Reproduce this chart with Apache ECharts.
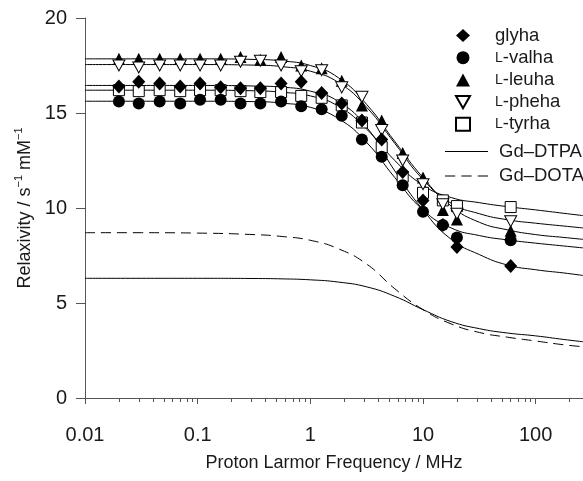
<!DOCTYPE html>
<html>
<head>
<meta charset="utf-8">
<script src="https://cdn.jsdelivr.net/npm/echarts@6/dist/echarts.min.js"></script>
<style>
  html, body { margin: 0; padding: 0; background: #ffffff; }
  #chart { width: 583px; height: 481px; }
</style>
</head>
<body>
<div id="chart"></div>
<script>
// Measured frequencies (MHz) for the relaxivity profiles
const freqMHz = [0.02, 0.03, 0.046, 0.07, 0.105, 0.16, 0.24, 0.36, 0.55, 0.83, 1.26, 1.9, 2.87, 4.3, 6.6, 10, 15, 20, 60];

// Measured relaxivities (s^-1 mM^-1)
const glyha = [16.4, 16.65, 16.55, 16.4, 16.55, 16.35, 16.3, 16.3, 16.55, 16.65, 16.05, 15.5, 14.6, 13.6, 11.9, 10.4, 9.1, 7.95, 6.95];
const valha = [15.6, 15.5, 15.6, 15.5, 15.7, 15.7, 15.5, 15.5, 15.6, 15.35, 15.2, 14.85, 13.6, 12.7, 11.2, 9.8, 9.1, 8.45, 8.3];
const leuha = [17.85, 17.85, 17.85, 17.85, 17.85, 17.85, 17.95, 17.8, 17.95, 17.5, 17.35, 16.7, 15.4, 14.6, 12.9, 11.6, 9.9, 9.4, 8.8];
const pheha = [17.5, 17.4, 17.5, 17.5, 17.5, 17.5, 17.7, 17.75, 17.5, 17.2, 17.25, 16.35, 15.85, 14.1, 12.5, 11.25, 10.2, 9.7, 9.3];
const tyrha = [16.2, 16.15, 16.2, 16.15, 16.2, 16.2, 16.15, 16.1, 16.1, 15.9, 15.8, 15.4, 14.5, 13.2, 11.65, 10.8, 10.4, 10.1, 10.05];

// Fitted profiles, read on a quarter-decade frequency grid
const fitFreq = [0.01, 0.0316, 0.1, 0.316, 0.562, 1, 1.78, 3.16, 5.62, 10, 17.8, 31.6, 56.2, 100, 178, 263];
const glyhaFit = [16.45, 16.45, 16.45, 16.42, 16.36, 16.15, 15.6, 14.25, 11.95, 9.9, 8.35, 7.55, 7.0, 6.75, 6.58, 6.45];
const valhaFit = [15.62, 15.62, 15.62, 15.6, 15.52, 15.3, 14.7, 13.45, 11.6, 9.9, 8.95, 8.55, 8.32, 8.15, 8.0, 7.9];
const leuhaFit = [17.85, 17.85, 17.85, 17.82, 17.74, 17.5, 16.85, 15.45, 13.5, 11.6, 10.1, 9.25, 8.85, 8.6, 8.45, 8.35];
const phehaFit = [17.55, 17.55, 17.55, 17.52, 17.44, 17.2, 16.6, 15.3, 13.4, 11.5, 10.25, 9.7, 9.38, 9.2, 9.05, 8.95];
const tyrhaFit = [16.2, 16.2, 16.2, 16.17, 16.09, 15.9, 15.35, 14.15, 12.5, 11.2, 10.55, 10.28, 10.07, 9.9, 9.72, 9.6];

// Reference contrast agents, same frequency grid
const dtpa = [6.3, 6.3, 6.3, 6.29, 6.27, 6.22, 6.1, 5.85, 5.35, 4.65, 4.02, 3.65, 3.42, 3.27, 3.08, 2.96];
const dota = [8.7, 8.7, 8.68, 8.6, 8.5, 8.3, 7.85, 7.05, 5.75, 4.65, 3.9, 3.45, 3.2, 3.0, 2.8, 2.7];

// Axis ticks
const xLabelTicks = [0.01, 0.1, 1, 10, 100];
const xMinorTicks = [0.02, 0.03, 0.04, 0.05, 0.06, 0.07, 0.08, 0.09,
                     0.2, 0.3, 0.4, 0.5, 0.6, 0.7, 0.8, 0.9,
                     2, 3, 4, 5, 6, 7, 8, 9,
                     20, 30, 40, 50, 60, 70, 80, 90, 200];

const FONT = '"Liberation Sans", Arial, Helvetica, sans-serif';
const INK = '#1a1a1a';
const AXIS = '#555555';

const pair = (xs, ys) => xs.map((x, i) => [x, ys[i]]);

const downTri = 'path://M0,0L20,0L10,17.32Z';
// Legend keys for the two reference curves: a solid stroke and a dashed stroke
const solidKey = 'path://M0,0H43V1H0Z';
const dashedKey = 'path://M0,0H10V1H0Z M16,0H26V1H16Z M32,0H42V1H32Z';

function markerSeries(name, ys, symbol, size, filled) {
  return {
    name: name,
    type: 'scatter',
    xAxisIndex: 0,
    data: pair(freqMHz, ys),
    symbol: symbol,
    symbolSize: size,
    itemStyle: {
      color: filled ? '#000000' : '#ffffff',
      borderColor: '#000000',
      borderWidth: filled ? 0 : 1,
      opacity: 1
    },
    emphasis: { disabled: true },
    z: 5
  };
}

function fitSeries(name, ys, dashed) {
  return {
    name: name,
    type: 'line',
    xAxisIndex: 0,
    data: pair(fitFreq, ys),
    symbol: 'none',
    smooth: 0.5,
    itemStyle: { color: '#000000' },
    lineStyle: { color: '#000000', width: 1, type: dashed ? [10, 6] : 'solid' },
    emphasis: { disabled: true },
    z: 3
  };
}

const legendText = {
  fontFamily: FONT,
  fontSize: 18.5,
  color: INK,
  rich: {
    sc: { fontFamily: FONT, fontSize: 14, color: INK }
  }
};
const legendFormatter = (name) => name.indexOf('L-') === 0 ? '{sc|L}-' + name.slice(2) : name;

const option = {
  animation: false,
  backgroundColor: '#ffffff',
  grid: { left: 85, right: 0, top: 18, bottom: 83, containLabel: false },
  legend: [
    {
      data: ['glyha', 'L-valha', 'L-leuha', 'L-pheha', 'L-tyrha'],
      orient: 'vertical',
      left: 455,
      top: 26,
      padding: 0,
      itemWidth: 14,
      itemHeight: 13,
      itemGap: 3.2,
      formatter: legendFormatter,
      textStyle: Object.assign({ padding: [0, 0, 0, 20] }, legendText),
      selectedMode: false
    },
    {
      data: [
        { name: 'Gd\u2013DTPA', icon: solidKey },
        { name: 'Gd\u2013DOTA', icon: dashedKey }
      ],
      orient: 'vertical',
      left: 445,
      top: 142,
      padding: 0,
      itemWidth: 43,
      itemHeight: 1.2,
      itemGap: 5.5,
      itemStyle: { color: '#000000' },
      textStyle: Object.assign({ padding: [0, 0, 0, 6] }, legendText),
      selectedMode: false
    }
  ],
  xAxis: [
    {
      type: 'log',
      logBase: 10,
      min: 0.01,
      max: 263,
      name: 'Proton Larmor Frequency / MHz',
      nameLocation: 'middle',
      nameGap: 56,
      nameTextStyle: { fontFamily: FONT, fontSize: 18, color: INK },
      axisLine: { show: true, onZero: false, lineStyle: { color: AXIS, width: 1 } },
      axisTick: { show: true, inside: false, length: 6, customValues: xLabelTicks, lineStyle: { color: AXIS } },
      axisLabel: {
        customValues: xLabelTicks,
        margin: 27,
        fontFamily: FONT,
        fontSize: 20,
        color: INK,
        formatter: (v) => String(+v.toPrecision(6))
      },
      splitLine: { show: false }
    },
    {
      type: 'log',
      logBase: 10,
      min: 0.01,
      max: 263,
      position: 'bottom',
      axisLine: { show: false },
      axisTick: { show: true, inside: false, length: 4, customValues: xMinorTicks, lineStyle: { color: AXIS } },
      axisLabel: { show: false },
      splitLine: { show: false }
    }
  ],
  yAxis: {
    type: 'value',
    min: 0,
    max: 20,
    interval: 5,
    name: '{t|Relaxivity / s}{s|\u22121}{t| mM}{s|\u22121}',
    nameLocation: 'middle',
    nameGap: 49,
    nameTextStyle: {
      fontFamily: FONT,
      fontSize: 18,
      color: INK,
      rich: {
        t: { fontFamily: FONT, fontSize: 18, color: INK, lineHeight: 22 },
        s: { fontFamily: FONT, fontSize: 11, color: INK, verticalAlign: 'top', lineHeight: 22 }
      }
    },
    axisLine: { show: true, lineStyle: { color: AXIS, width: 1 } },
    axisTick: { show: true, inside: false, length: 9, lineStyle: { color: AXIS } },
    axisLabel: { margin: 18, fontFamily: FONT, fontSize: 20, color: INK },
    splitLine: { show: false }
  },
  series: [
    fitSeries('glyha fit', glyhaFit, false),
    fitSeries('valha fit', valhaFit, false),
    fitSeries('leuha fit', leuhaFit, false),
    fitSeries('pheha fit', phehaFit, false),
    fitSeries('tyrha fit', tyrhaFit, false),
    fitSeries('Gd\u2013DTPA', dtpa, false),
    fitSeries('Gd\u2013DOTA', dota, true),
    markerSeries('L-tyrha', tyrha, 'rect', 11, false),
    markerSeries('L-leuha', leuha, 'triangle', 12, true),
    markerSeries('L-pheha', pheha, downTri, [12, 11], false),
    markerSeries('L-valha', valha, 'circle', 12, true),
    markerSeries('glyha', glyha, 'diamond', [13, 14], true)
  ]
};

const chart = echarts.init(document.getElementById('chart'), null, { renderer: 'canvas' });
chart.setOption(option);
</script>
</body>
</html>
